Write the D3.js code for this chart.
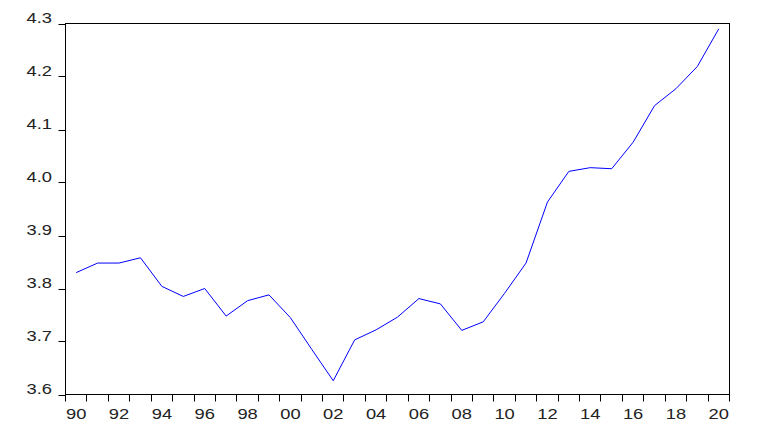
<!DOCTYPE html>
<html>
<head>
<meta charset="utf-8">
<script src="https://cdn.jsdelivr.net/npm/d3@7"></script>
<style>
html,body{margin:0;padding:0;background:#fff;}
svg{display:block;}
text{font-family:"Liberation Sans",Arial,sans-serif;fill:#222;}
</style>
</head>
<body>
<svg id="chart" width="769" height="448"></svg>
<script>
const years = d3.range(1990, 2021);
const values = [3.830, 3.848, 3.848, 3.858, 3.804, 3.785, 3.800, 3.748, 3.777, 3.788,
                3.745, 3.685, 3.626, 3.703, 3.722, 3.746, 3.781, 3.771, 3.721, 3.737,
                3.791, 3.848, 3.963, 4.021, 4.028, 4.026, 4.076, 4.145, 4.177, 4.219,
                4.290];
const yTicks = [3.6, 3.7, 3.8, 3.9, 4.0, 4.1, 4.2, 4.3];
const xLabelYears = years.filter(y => y % 2 === 0);

const svg = d3.select("#chart");
const L = 65.5, R = 729.5, T = 23.5, B = 394.5;
const SX = 1.19, FS = 15.4;

const x = d3.scaleBand().domain(years).range([L, R]).paddingInner(0).paddingOuter(0);
const y = d3.scaleLinear().domain([3.6, 4.3]).range([B, T]);

// frame
svg.append("rect").attr("x", L).attr("y", T).attr("width", R - L).attr("height", B - T)
  .attr("fill", "none").attr("stroke", "#000").attr("stroke-width", 1);

// y axis ticks
const yg = svg.append("g");
yg.selectAll("line").data(yTicks).enter().append("line")
  .attr("x1", L - 7).attr("x2", L)
  .attr("y1", d => Math.round(y(d)) + 0.5).attr("y2", d => Math.round(y(d)) + 0.5)
  .attr("stroke", "#000");
yg.selectAll("text").data(yTicks).enter().append("text")
  .attr("transform", d => `translate(52,${y(d) - 1}) scale(${SX},1)`)
  .attr("text-anchor", "end").attr("font-size", FS)
  .text(d => d3.format(".1f")(d));

// x axis ticks at band boundaries
const bounds = years.map(v => x(v)).concat([x(years[years.length - 1]) + x.bandwidth()]);
const xg = svg.append("g");
xg.selectAll("line").data(bounds).enter().append("line")
  .attr("x1", d => Math.round(d - 0.5) + 0.5).attr("x2", d => Math.round(d - 0.5) + 0.5)
  .attr("y1", B).attr("y2", B + 7).attr("stroke", "#000");
xg.selectAll("text").data(xLabelYears).enter().append("text")
  .attr("transform", d => `translate(${x(d) + x.bandwidth() / 2},418.5) scale(${SX},1)`)
  .attr("text-anchor", "middle").attr("font-size", FS)
  .text(d => String(d % 100).padStart(2, "0"));

// line
const line = d3.line()
  .x((d, i) => x(years[i]) + x.bandwidth() / 2)
  .y(d => y(d));
svg.append("path").datum(values)
  .attr("d", line).attr("fill", "none").attr("stroke", "#0000ff").attr("stroke-width", 1);
</script>
</body>
</html>
